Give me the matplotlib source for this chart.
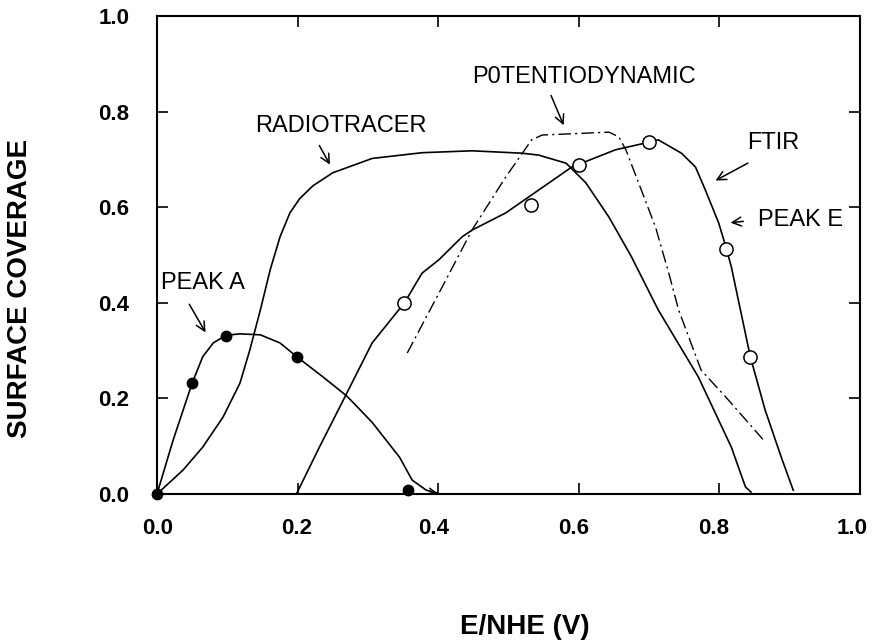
import matplotlib
matplotlib.use("Agg")
import matplotlib.pyplot as plt
from matplotlib.transforms import ScaledTranslation

plt.rcParams["font.family"] = ["Liberation Sans", "DejaVu Sans"]

# PEAK A: filled points and its curve
peak_a_x = [0.0, 0.050, 0.098, 0.199, 0.357]
peak_a_y = [0.0, 0.232, 0.330, 0.287, 0.008]
peak_a_curve_x = [0.0, 0.023, 0.050, 0.065, 0.080, 0.098, 0.118, 0.147, 0.175,
                  0.199, 0.236, 0.270, 0.306, 0.345, 0.363, 0.383, 0.399]
peak_a_curve_y = [0.0, 0.113, 0.232, 0.287, 0.316, 0.332, 0.335, 0.333, 0.316,
                  0.287, 0.245, 0.205, 0.150, 0.077, 0.029, 0.008, 0.002]

# radiotracer
radio_x = [0.0, 0.037, 0.065, 0.094, 0.118, 0.132, 0.147, 0.161, 0.175, 0.189,
           0.203, 0.222, 0.250, 0.306, 0.377, 0.448, 0.519, 0.543, 0.582, 0.610,
           0.643, 0.675, 0.713, 0.770, 0.817, 0.837, 0.845]
radio_y = [0.0, 0.050, 0.098, 0.161, 0.232, 0.301, 0.385, 0.469, 0.538, 0.588,
           0.618, 0.645, 0.672, 0.702, 0.714, 0.718, 0.713, 0.709, 0.692, 0.651,
           0.579, 0.496, 0.385, 0.245, 0.098, 0.015, 0.004]

# FTIR curve and open points
ftir_x = [0.199, 0.231, 0.270, 0.306, 0.352, 0.377, 0.401, 0.434, 0.448, 0.496,
          0.543, 0.590, 0.652, 0.700, 0.713, 0.746, 0.766, 0.780, 0.799, 0.810,
          0.817, 0.844, 0.865, 0.888, 0.905]
ftir_y = [0.002, 0.098, 0.211, 0.316, 0.400, 0.462, 0.490, 0.538, 0.552, 0.588,
          0.636, 0.684, 0.720, 0.736, 0.741, 0.713, 0.684, 0.636, 0.567, 0.513,
          0.475, 0.287, 0.176, 0.077, 0.008]
ftir_pts_x = [0.352, 0.532, 0.600, 0.700, 0.810, 0.844]
ftir_pts_y = [0.400, 0.605, 0.688, 0.736, 0.513, 0.287]

# potentiodynamic
pot_x = [0.356, 0.411, 0.448, 0.496, 0.533, 0.548, 0.643, 0.657, 0.667, 0.685,
         0.709, 0.728, 0.742, 0.774, 0.809, 0.865]
pot_y = [0.295, 0.448, 0.552, 0.663, 0.741, 0.751, 0.757, 0.747, 0.720, 0.651,
         0.559, 0.462, 0.385, 0.259, 0.203, 0.109]

ticks = [0.0, 0.2, 0.4, 0.6, 0.8, 1.0]
tick_labels = ["0.0", "0.2", "0.4", "0.6", "0.8", "1.0"]

fig = plt.figure(figsize=(8.73, 6.42), dpi=100)
ax = fig.add_axes([157 / 873, 1 - 494 / 642, 703 / 873, 478 / 642])

lw = 1.2
ax.plot(peak_a_curve_x, peak_a_curve_y, color="black", lw=lw)
ax.plot(radio_x, radio_y, color="black", lw=lw)
ax.plot(ftir_x, ftir_y, color="black", lw=lw)
ax.plot(pot_x, pot_y, color="black", lw=1.0, dashes=(9, 3, 1.5, 3))
ax.plot(peak_a_x, peak_a_y, "o", color="black", ms=7.5, clip_on=False)
ax.plot(ftir_pts_x, ftir_pts_y, "o", mfc="white", mec="black", mew=1.1, ms=9.5)

# small arrowhead at the end of the PEAK A curve
ax.annotate("", xy=(0.401, 0.003), xytext=(0.385, 0.007),
            arrowprops=dict(arrowstyle="->", lw=1.0, color="black",
                            mutation_scale=10))

label_kw = dict(fontsize=17, ha="center", va="center")
arrow_kw = dict(arrowstyle="->", lw=1.1, color="black", mutation_scale=16)

ax.text(0.262, 0.770, "RADIOTRACER", **label_kw)
ax.annotate("", xy=(0.248, 0.684), xytext=(0.229, 0.734), arrowprops=arrow_kw)

ax.text(0.607, 0.872, "P0TENTIODYNAMIC", **label_kw)
ax.annotate("", xy=(0.580, 0.766), xytext=(0.559, 0.839), arrowprops=arrow_kw)

ax.text(0.876, 0.734, "FTIR", **label_kw)
ax.annotate("", xy=(0.791, 0.653), xytext=(0.844, 0.695), arrowprops=arrow_kw)

ax.text(0.915, 0.573, "PEAK E", **label_kw)
ax.annotate("", xy=(0.812, 0.567), xytext=(0.838, 0.571), arrowprops=arrow_kw)

ax.text(0.065, 0.441, "PEAK A", **label_kw)
ax.annotate("", xy=(0.071, 0.333), xytext=(0.044, 0.402), arrowprops=arrow_kw)

ax.set_xlim(0, 1.0)
ax.set_ylim(0, 1.0)
ax.set_xticks(ticks)
ax.set_xticklabels(tick_labels, fontsize=16, fontweight="bold")
ax.set_yticks(ticks)
ax.set_yticklabels(tick_labels, fontsize=16, fontweight="bold")
ax.tick_params(direction="in", length=8, width=1.2, top=True, right=True)
ax.tick_params(axis="x", pad=17)
ax.tick_params(axis="y", pad=20)
for sp in ax.spines.values():
    sp.set_linewidth(1.5)

# the scanned x labels drift a little left of their ticks
shifts_px = [1, -1, -5, -5, -6, -8]
for lab, dx in zip(ax.get_xticklabels(), shifts_px):
    lab.set_transform(lab.get_transform()
                      + ScaledTranslation(dx / 100, 0, fig.dpi_scale_trans))

fig.text(525 / 873, 1 - 627 / 642, "E/NHE (V)", fontsize=20, fontweight="bold",
         ha="center", va="center")
fig.text(20 / 873, 1 - 289 / 642, "SURFACE COVERAGE", fontsize=20,
         fontweight="bold", rotation=90, ha="center", va="center")

fig.savefig("out.png", dpi=100)
